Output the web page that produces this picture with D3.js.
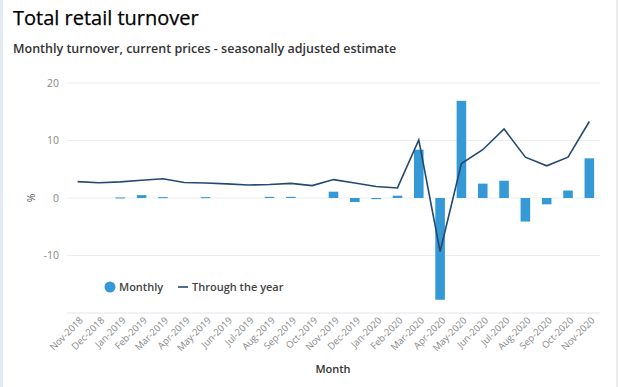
<!DOCTYPE html>
<html lang="en">
<head>
<meta charset="UTF-8">
<title>Total retail turnover</title>
<style>
    body {
        margin: 0;
        padding: 0;
        background: #fff;
        font-family: 'Open Sans', 'Noto Sans', sans-serif;
    }
    #chart {
        width: 620px;
        height: 387px;
    }
</style>
</head>
<body>
<div id="chart"></div>
<script src="https://d3js.org/d3.v7.min.js"></script>
<script>
    const months = ["Nov-2018", "Dec-2018", "Jan-2019", "Feb-2019", "Mar-2019", "Apr-2019",
        "May-2019", "Jun-2019", "Jul-2019", "Aug-2019", "Sep-2019", "Oct-2019", "Nov-2019",
        "Dec-2019", "Jan-2020", "Feb-2020", "Mar-2020", "Apr-2020", "May-2020", "Jun-2020",
        "Jul-2020", "Aug-2020", "Sep-2020", "Oct-2020", "Nov-2020"];
    const monthly = [0.0, 0.0, 0.1, 0.5, 0.15, 0.0, 0.15, 0.0, 0.0, 0.2, 0.2, 0.0, 1.1,
        -0.7, -0.2, 0.4, 8.4, -17.7, 16.9, 2.5, 3.0, -4.1, -1.1, 1.3, 6.9];
    const throughYear = [2.85, 2.65, 2.8, 3.1, 3.35, 2.7, 2.6, 2.45, 2.25, 2.35, 2.55, 2.15, 3.2,
        2.6, 2.0, 1.75, 10.1, -9.3, 6.0, 8.4, 12.0, 7.1, 5.6, 7.1, 13.3];
    const yTicks = [-10, 0, 10, 20];

    const width = 620, height = 387;
    const margin = { left: 67, right: 20, top: 83, bottom: 74 };

    const svg = d3.select("#chart").append("svg")
        .attr("width", width)
        .attr("height", height);

    // panel edges
    svg.append("rect").attr("x", 0).attr("y", 0).attr("width", 3).attr("height", height)
        .attr("fill", "#e3eaf1");
    svg.append("rect").attr("x", 616).attr("y", 0).attr("width", 2).attr("height", height)
        .attr("fill", "#ececec");

    svg.append("text")
        .attr("x", 13).attr("y", 25)
        .attr("font-size", 20)
        .attr("fill", "#000")
        .attr("stroke", "#000").attr("stroke-width", 0.25)
        .text("Total retail turnover");

    svg.append("text")
        .attr("x", 13).attr("y", 53)
        .attr("font-size", 12.5)
        .attr("font-weight", 600)
        .attr("fill", "#333")
        .text("Monthly turnover, current prices - seasonally adjusted estimate");

    const x = d3.scaleBand()
        .domain(months)
        .range([margin.left, width - margin.right])
        .paddingInner(0.55)
        .paddingOuter(0.275);

    const y = d3.scaleLinear()
        .domain([-20, 20])
        .range([height - margin.bottom, margin.top]);

    // gridlines
    svg.append("g")
        .selectAll("line")
        .data(yTicks)
        .join("line")
        .attr("x1", margin.left).attr("x2", width - margin.right)
        .attr("y1", d => y(d)).attr("y2", d => y(d))
        .attr("stroke", "#ededed");

    svg.append("line")
        .attr("x1", margin.left).attr("x2", width - margin.right)
        .attr("y1", y(-20)).attr("y2", y(-20))
        .attr("stroke", "#e4e4ec");

    // y axis labels
    const yAxis = svg.append("g")
        .attr("transform", `translate(${margin.left - 8},0)`)
        .call(d3.axisLeft(y).tickValues(yTicks).tickFormat(d => String(d)).tickSize(0).tickPadding(0));
    yAxis.select(".domain").remove();
    yAxis.selectAll("text")
        .attr("font-family", "'Open Sans', 'Noto Sans', sans-serif")
        .attr("font-size", 10.5)
        .attr("fill", "#888");

    svg.append("text")
        .attr("transform", `translate(31,${y(0)}) rotate(-90)`)
        .attr("text-anchor", "middle")
        .attr("dy", "0.35em")
        .attr("font-size", 10.5)
        .attr("fill", "#555")
        .text("%");

    // x axis labels
    const xAxis = svg.append("g")
        .attr("transform", `translate(0,${y(-20)})`)
        .call(d3.axisBottom(x).tickSize(0).tickPadding(0));
    xAxis.select(".domain").remove();
    xAxis.selectAll("text")
        .attr("font-family", "'Open Sans', 'Noto Sans', sans-serif")
        .attr("font-size", 9.5)
        .attr("fill", "#888")
        .attr("text-anchor", "end")
        .attr("dy", 0)
        .attr("transform", "translate(6,8) rotate(-45)");

    svg.append("text")
        .attr("x", 333).attr("y", 373)
        .attr("text-anchor", "middle")
        .attr("font-size", 11)
        .attr("font-weight", 600)
        .attr("fill", "#333")
        .text("Month");

    // bars
    svg.append("g")
        .selectAll("rect")
        .data(monthly)
        .join("rect")
        .attr("x", (d, i) => x(months[i]))
        .attr("width", x.bandwidth())
        .attr("y", d => y(Math.max(0, d)))
        .attr("height", d => Math.max(Math.abs(y(d) - y(0)), d === 0 ? 0 : 1))
        .attr("fill", "#3599d6");

    // through the year line
    const line = d3.line()
        .x((d, i) => x(months[i]) + x.bandwidth() / 2)
        .y(d => y(d));

    svg.append("path")
        .datum(throughYear)
        .attr("d", line)
        .attr("fill", "none")
        .attr("stroke", "#234a70")
        .attr("stroke-width", 1.6);

    // legend
    const legend = svg.append("g").attr("transform", "translate(110,287)");
    legend.append("circle").attr("r", 5.5).attr("fill", "#3599d6");
    legend.append("text").attr("x", 9).attr("dy", "0.35em")
        .attr("font-size", 11).attr("font-weight", 600).attr("fill", "#444")
        .text("Monthly");
    legend.append("line").attr("x1", 68).attr("x2", 78)
        .attr("stroke", "#234a70").attr("stroke-width", 1.6);
    legend.append("text").attr("x", 82).attr("dy", "0.35em")
        .attr("font-size", 11).attr("font-weight", 600).attr("fill", "#444")
        .text("Through the year");
</script>
</body>
</html>
